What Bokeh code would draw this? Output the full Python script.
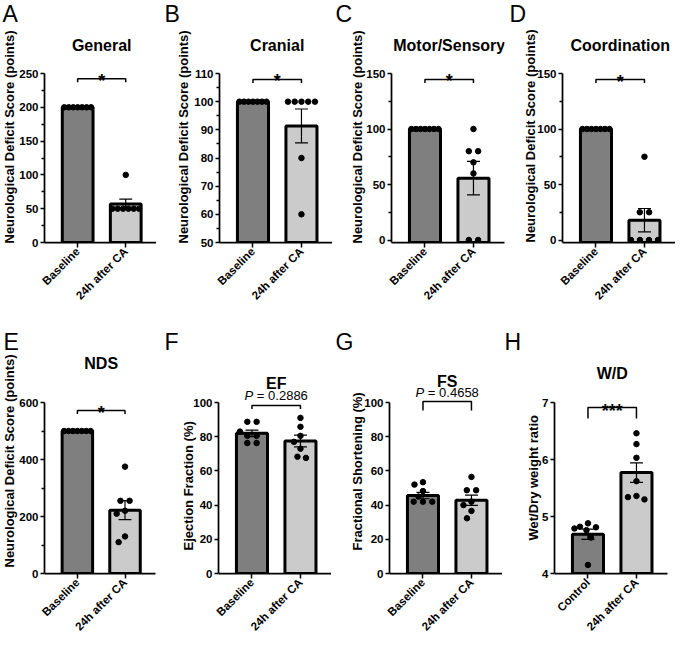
import math
from collections import defaultdict
from bokeh.plotting import figure
from bokeh.models import FixedTicker, Label, Range1d, Title
from bokeh.layouts import row, column
from bokeh.embed import file_html
from bokeh.resources import INLINE

FONT = "Liberation Sans"
DARK = "#7f7f7f"
LIGHT = "#cbcbcb"

# ---------------- data ----------------
panel_letters = ["A", "B", "C", "D", "E", "F", "G", "H"]
panel_titles = ["General", "Cranial", "Motor/Sensory", "Coordination", "NDS", "EF", "FS", "W/D"]
nds_label = "Neurological Deficit Score (points)"
y_labels = [nds_label, nds_label, nds_label, nds_label, nds_label,
            "Ejection Fraction (%)", "Fractional Shortening (%)", "Wet/Dry weight ratio"]
groups_ca = ["Baseline", "24h after CA"]
groups_wd = ["Control", "24h after CA"]

general_baseline = [200, 200, 200, 200, 200, 200, 200]
general_ca = [50, 50, 50, 50, 50, 50, 100]
general_mean = [200, 57.1]
general_sem = [0, 7.1]

cranial_baseline = [100, 100, 100, 100, 100, 100, 100]
cranial_ca = [100, 100, 100, 100, 100, 80, 60]
cranial_mean = [100, 91.4]
cranial_sem = [0, 6.0]

motor_baseline = [100, 100, 100, 100, 100, 100, 100]
motor_ca = [100, 80, 80, 70, 60, 0, 0]
motor_mean = [100, 55.7]
motor_sem = [0, 15.1]

coord_baseline = [100, 100, 100, 100, 100, 100, 100]
coord_ca = [75, 25, 25, 0, 0, 0, 0]
coord_mean = [100, 17.9]
coord_sem = [0, 10.5]

nds_baseline = [500, 500, 500, 500, 500, 500, 500]
nds_ca = [375, 255, 255, 210, 220, 130, 110]
nds_mean = [500, 222.1]
nds_sem = [0, 33.4]

ef_baseline = [88.7, 88.7, 83.0, 80.5, 80.5, 76.3, 76.3]
ef_ca = [91.0, 85.8, 80.5, 77.0, 73.0, 67.6, 68.3]
ef_mean = [82.0, 77.5]
ef_sem = [1.9, 3.4]

fs_baseline = [53.4, 52.0, 48.2, 45.0, 42.0, 42.0, 42.0]
fs_ca = [56.5, 48.7, 48.7, 42.0, 40.0, 36.6, 32.3]
fs_mean = [45.6, 42.8]
fs_sem = [1.9, 3.0]

wd_control = [4.88, 4.79, 4.82, 4.76, 4.81, 4.63, 4.15]
wd_ca = [6.46, 6.27, 6.03, 5.62, 5.30, 5.36, 5.34]
wd_mean = [4.69, 5.77]
wd_sem = [0.09, 0.17]

sig_marks = ["*", "*", "*", "*", "*", None, None, "***"]
p_values = [None, None, None, None, None, "0.2886", "0.4658", None]

y_ticks = [
    [0, 50, 100, 150, 200, 250],
    [50, 60, 70, 80, 90, 100, 110],
    [0, 50, 100, 150],
    [0, 50, 100, 150],
    [0, 200, 400, 600],
    [0, 20, 40, 60, 80, 100],
    [0, 20, 40, 60, 80, 100],
    [4, 5, 6, 7],
]
y_minor = [
    [25, 75, 125, 175, 225],
    [55, 65, 75, 85, 95, 105],
    [25, 75, 125],
    [25, 75, 125],
    [100, 300, 500],
    [], [], [],
]

panels = [
    (groups_ca, general_baseline, general_ca, general_mean, general_sem),
    (groups_ca, cranial_baseline, cranial_ca, cranial_mean, cranial_sem),
    (groups_ca, motor_baseline, motor_ca, motor_mean, motor_sem),
    (groups_ca, coord_baseline, coord_ca, coord_mean, coord_sem),
    (groups_ca, nds_baseline, nds_ca, nds_mean, nds_sem),
    (groups_ca, ef_baseline, ef_ca, ef_mean, ef_sem),
    (groups_ca, fs_baseline, fs_ca, fs_mean, fs_sem),
    (groups_wd, wd_control, wd_ca, wd_mean, wd_sem),
]

# ---------------- layout (page pixels) ----------------
ROW_COLS = [[8, 164, 340, 516, 683], [8, 168, 339, 510, 683]]
ROW_Y = [0, 320]
ROW_H = [320, 320]
FRAME_TOP = [28, 356]
AX_TOP = [73, 402]
AX_BOTTOM = [242, 573]
FRAME_L = [51, 227, 399, 570, 50, 226, 397, 562]
FRAME_W = 113
ZERO_PAD = [0, 0, 2.5, 2.5, 0, 0, 0, 0]
LETTER_X = [2, 172, 343, 517, 2, 172, 343, 512]
TITLE_Y = [45, 45, 45, 45, 363, 383, 381, 373]
BRACKET_Y = [78.3, 79, 79, 79, 410, 405, 401, 407]
BRACKET_TICK = [3.5, 3.5, 3.5, 3.5, 3.5, 3.5, 9, 11]
SIG_Y = [70, 70, 70, 70.7, 402, 395, 392, 400]
YLAB_S = [-1, 1, -3, -7, -1, -10, -6, -3]
YLAB_BOTTOM = [243, 243, 243, 242, 567, 550, 550, 540]
X0, X1 = 0.31, 2.64
BAR_W = 0.64


def swarm_offsets(vals, ppu, half=13.5, dmin=8.5):
    n = len(vals)
    offs = [None] * n
    placed = []
    by_val = defaultdict(list)
    for i, v in enumerate(vals):
        by_val[v].append(i)
    for v, idx in sorted(by_val.items(), key=lambda kv: -len(kv[1])):
        k = len(idx)
        if k < 2:
            continue
        s = min(9.3, 2 * half / (k - 1))
        for j, i in enumerate(idx):
            offs[i] = (j - (k - 1) / 2) * s
            placed.append((offs[i], v * ppu))
    cands = sorted([c * 0.5 for c in range(-int(2 * half), int(2 * half) + 1)],
                   key=lambda c: (abs(c), c))
    rest = sorted([i for i in range(n) if offs[i] is None], key=lambda i: -vals[i])
    for i in rest:
        y = vals[i] * ppu
        best, best_c, best_d = None, 0.0, -1.0
        for c in cands:
            d = min((math.hypot(c - px, y - py) for px, py in placed), default=1e9)
            if d >= dmin:
                best = c
                break
            if d > best_d:
                best_d, best_c = d, c
        offs[i] = best if best is not None else best_c
        placed.append((offs[i], y))
    return offs


def build(i):
    r, c = divmod(i, 4)
    cols = ROW_COLS[r]
    fx, fw = cols[c], cols[c + 1] - cols[c]
    fy, fh = ROW_Y[r], ROW_H[r]
    fl = FRAME_L[i]
    fr = fl + FRAME_W
    ft, at, ab = FRAME_TOP[r], AX_TOP[r], AX_BOTTOM[r]
    pad = ZERO_PAD[i]
    cats, g1, g2, means, sems = panels[i]
    ticks = y_ticks[i]
    ylo, yhi = ticks[0], ticks[-1]
    ppu = (ab - pad - at) / (yhi - ylo)
    y0 = ylo - pad / ppu
    y1 = yhi + (at - ft) / ppu
    xppu = FRAME_W / (X1 - X0)

    def ydat(py):
        return ylo + (ab - pad - py) / ppu

    p = figure(width=fw, height=fh, x_range=Range1d(X0, X1), y_range=Range1d(y0, y1),
               output_backend="svg", toolbar_location=None,
               min_border_left=fl - fx, min_border_right=max(0, fx + fw - fr),
               min_border_top=ft - fy, min_border_bottom=fy + fh - ab)
    p.xgrid.visible = False
    p.ygrid.visible = False
    p.outline_line_color = None
    p.background_fill_color = "white"
    p.border_fill_color = "white"

    # bars
    p.vbar(x=[1, 2], top=means, bottom=y0, width=BAR_W,
           fill_color=[DARK, LIGHT], line_color="black", line_width=3)

    # error bars (SEM)
    cap = 6.5 / xppu
    ex, elo, ehi = [], [], []
    for k, (m, s) in enumerate(zip(means, sems)):
        if s > 0:
            ex.append(k + 1)
            elo.append(m - s)
            ehi.append(m + s)
    if ex:
        p.segment(x0=ex, y0=elo, x1=ex, y1=ehi, line_color="black", line_width=1.2)
        p.segment(x0=[x - cap for x in ex], y0=ehi, x1=[x + cap for x in ex], y1=ehi,
                  line_color="black", line_width=1.2)
        p.segment(x0=[x - cap for x in ex], y0=elo, x1=[x + cap for x in ex], y1=elo,
                  line_color="black", line_width=1.2)

    # individual points (beeswarm)
    xs, ys = [], []
    for k, g in enumerate([g1, g2]):
        offs = swarm_offsets(g, ppu)
        for o, v in zip(offs, g):
            xs.append(k + 1 + o / xppu)
            ys.append(v)
    p.scatter(x=xs, y=ys, size=5.5, color="black")

    # significance bracket
    yb = ydat(BRACKET_Y[i])
    yt = ydat(BRACKET_Y[i] + BRACKET_TICK[i])
    p.line(x=[1, 1, 2, 2], y=[yt, yb, yb, yt], line_color="black", line_width=1.5)

    if sig_marks[i]:
        p.add_layout(Label(x=1.5, y=ydat(SIG_Y[i] + 10.4), text=sig_marks[i], text_font=FONT,
                           text_font_size="18px", text_font_style="bold", text_color="black",
                           text_align="center", text_baseline="alphabetic"))
    if p_values[i]:
        rest = "= " + p_values[i]
        fs = 13
        w_p = 0.667 * fs
        w_sp = 0.278 * fs
        w_rest = (0.584 + 0.278 + 0.556 * 5 + 0.278) * fs
        total = w_p + w_sp + w_rest
        start = -total / 2
        yc = ydat(SIG_Y[i])
        p.add_layout(Label(x=1.5, y=yc, x_offset=start, text="P", text_font=FONT,
                           text_font_size="13px", text_font_style="italic", text_color="black",
                           text_align="left", text_baseline="middle"))
        p.add_layout(Label(x=1.5, y=yc, x_offset=start + w_p + w_sp, text=rest, text_font=FONT,
                           text_font_size="13px", text_font_style="normal", text_color="black",
                           text_align="left", text_baseline="middle"))

    # panel title (inside the frame, above the axis)
    p.add_layout(Label(x=1.5, y=ydat(TITLE_Y[i]), text=panel_titles[i], text_font=FONT,
                       text_font_size="16px", text_font_style="bold", text_color="black",
                       text_align="center", text_baseline="middle"))

    # panel letter (title panel above the frame)
    lx = max(LETTER_X[i], fx + 1)
    p.add_layout(Title(text=panel_letters[i], align="left", offset=lx - fl,
                       vertical_align="top", standoff=0, text_font=FONT,
                       text_font_size="23px", text_font_style="normal",
                       text_color="black"), "above")

    # y axis label (title panel left of the axis)
    ytitle = Title(text=y_labels[i], align="left", offset=ab - YLAB_BOTTOM[i],
                   vertical_align="bottom", standoff=max(0, YLAB_S[i]), text_font=FONT,
                   text_font_size="13px", text_font_style="bold", text_color="black")
    if YLAB_S[i] < 0:
        try:
            ytitle.standoff = YLAB_S[i]
        except Exception:
            pass
    p.add_layout(ytitle, "left")

    # x axis
    xa = p.xaxis[0]
    xa.ticker = FixedTicker(ticks=[1, 2])
    xa.major_label_overrides = {1: cats[0], 2: cats[1]}
    xa.major_label_orientation = math.pi / 4
    xa.major_label_text_font = FONT
    xa.major_label_text_font_size = "11.5px"
    xa.major_label_text_font_style = "bold"
    xa.major_label_text_color = "black"
    xa.major_label_standoff = 2
    xa.major_tick_out = 5
    xa.major_tick_in = 0
    xa.minor_tick_line_color = None
    xa.axis_line_width = 1.75
    xa.major_tick_line_width = 1.5
    xa.axis_line_color = "black"
    xa.major_tick_line_color = "black"

    # y axis
    ya = p.yaxis[0]
    ya.ticker = FixedTicker(ticks=ticks, minor_ticks=y_minor[i])
    ya.bounds = (y0, yhi)
    ya.major_label_text_font = FONT
    ya.major_label_text_font_size = "11.5px"
    ya.major_label_text_font_style = "bold"
    ya.major_label_text_color = "black"
    ya.major_label_standoff = 2
    ya.major_tick_out = 4
    ya.major_tick_in = 0
    ya.minor_tick_out = 3
    ya.minor_tick_in = 0
    ya.axis_line_width = 1.75
    ya.major_tick_line_width = 1.5
    ya.minor_tick_line_width = 1.5
    ya.axis_line_color = "black"
    ya.major_tick_line_color = "black"
    ya.minor_tick_line_color = "black"
    return p


figs = [build(i) for i in range(8)]
layout = column(row(*figs[:4]), row(*figs[4:]))
open("out.html", "w").write(file_html(layout, INLINE))
